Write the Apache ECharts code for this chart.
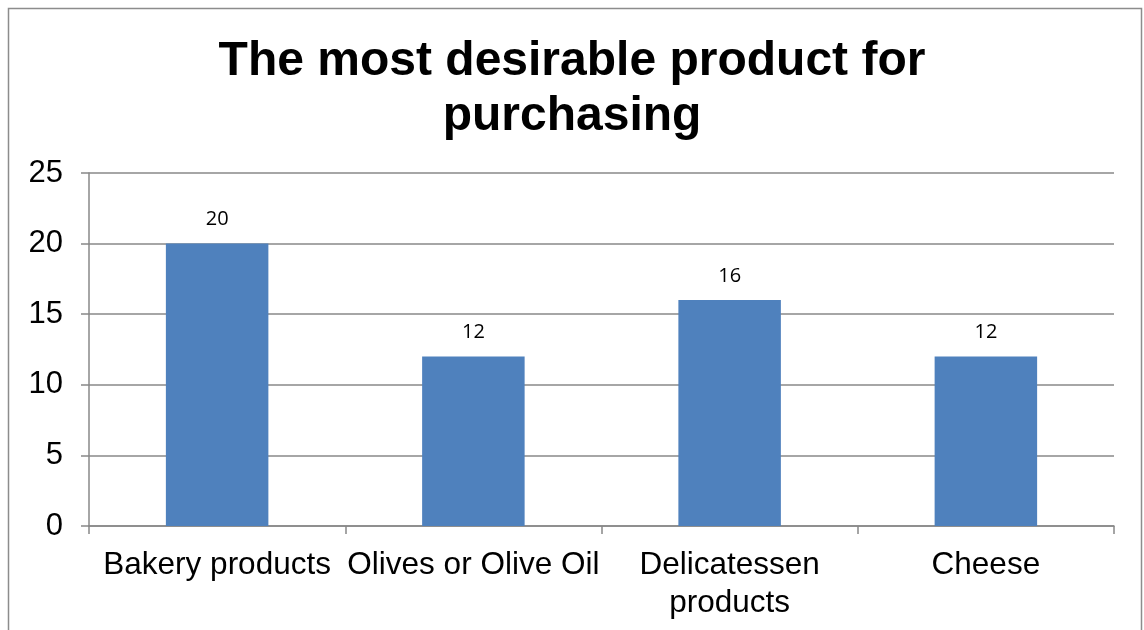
<!DOCTYPE html>
<html>
<head>
<meta charset="utf-8">
<script src="https://cdn.jsdelivr.net/npm/echarts@6/dist/echarts.min.js"></script>
<style>
  html, body { margin: 0; padding: 0; background: #fff; }
  #chart { width: 1144px; height: 630px; }
</style>
</head>
<body>
<div id="chart"></div>
<script>
// chart data
const categories = ['Bakery products', 'Olives or Olive Oil', 'Delicatessen\nproducts', 'Cheese']
const values = [20, 12, 16, 12]
const yTicks = { min: 0, max: 25, interval: 5 }

const chart = echarts.init(document.getElementById('chart'))

chart.setOption({
  animation: false,
  textStyle: { fontFamily: '"Liberation Sans", Arial, sans-serif' },
  title: {
    text: 'The most desirable product for\npurchasing',
    left: 'center',
    top: 29,
    textStyle: {
      fontSize: 48,
      fontWeight: 'bold',
      color: '#000',
      lineHeight: 55,
      fontFamily: '"Liberation Sans", Arial, sans-serif'
    }
  },
  graphic: [
    {
      type: 'rect',
      shape: { x: 8.5, y: 8.5, width: 1133, height: 700 },
      style: { fill: 'none', stroke: '#8c8c8c', lineWidth: 1.5 },
      silent: true
    }
  ],
  grid: { left: 89, right: 30, top: 173, bottom: 104 },
  xAxis: {
    type: 'category',
    data: categories,
    axisLine: { lineStyle: { color: '#888', width: 1.5 } },
    axisTick: { show: true, length: 8, lineStyle: { color: '#888', width: 1.5 } },
    axisLabel: {
      interval: 0,
      color: '#000',
      fontSize: 31.5,
      lineHeight: 38,
      margin: 20
    }
  },
  yAxis: {
    type: 'value',
    min: yTicks.min,
    max: yTicks.max,
    interval: yTicks.interval,
    axisLine: { show: true, lineStyle: { color: '#888', width: 1.5 } },
    axisTick: { show: true, length: 8, lineStyle: { color: '#888', width: 1.5 } },
    splitLine: { lineStyle: { color: '#888', width: 1.5 } },
    axisLabel: { color: '#000', fontSize: 31, margin: 26 }
  },
  series: [
    {
      type: 'bar',
      data: values,
      barWidth: '40%',
      itemStyle: { color: '#4F81BD' },
      label: {
        show: true,
        position: 'top',
        distance: 14,
        color: '#000',
        fontSize: 20,
        fontFamily: '"Open Sans", "DejaVu Sans", sans-serif'
      }
    }
  ]
})
</script>
</body>
</html>
